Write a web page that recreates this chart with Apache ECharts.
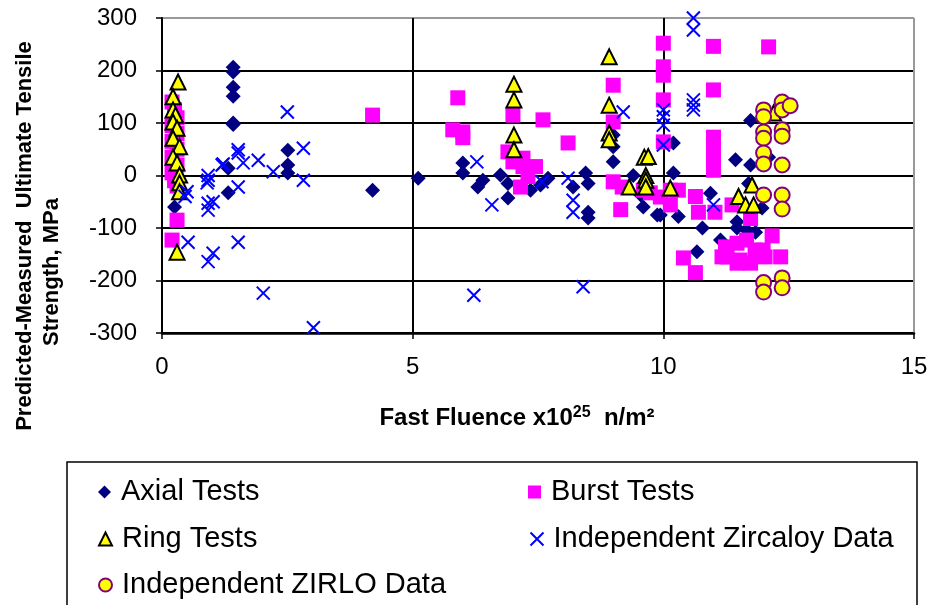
<!DOCTYPE html>
<html>
<head>
<meta charset="utf-8">
<script src="https://cdn.jsdelivr.net/npm/echarts@6/dist/echarts.min.js"></script>
<style>
html,body{margin:0;padding:0;background:#fff;}
#chart{width:932px;height:605px;}
</style>
</head>
<body>
<div id="chart"></div>
<script>
// ---- Data (x = fast fluence x10^25 n/m^2, y = predicted-measured UTS, MPa) ----
const seriesNames = ['Axial Tests', 'Burst Tests', 'Ring Tests', 'Independent Zircaloy Data', 'Independent ZIRLO Data'];
const xTicks = [0, 5, 10, 15];
const yTicks = [-300, -200, -100, 0, 100, 200, 300];

const axialData = [
  [0.25,-60],[0.3,0],[0.3,10],
  [1.42,206],[1.42,197],[1.42,168],[1.42,151],[1.42,100],[1.42,97],[1.32,14],[1.32,-33],
  [2.51,48],[2.51,20],[2.51,5],
  [4.2,-28],[5.11,-5],
  [6.0,24],[6.0,5],[6.3,-22],[6.4,-9],[6.75,1],[6.9,-43],[6.9,-15],[7.35,-28],[7.55,-18],[7.7,-5],
  [8.2,-22],[8.45,5],[8.5,-15],[8.5,-70],[8.5,-81],
  [9.0,77],[9.0,55],[9.0,26],[9.4,0],[9.55,-37],[9.6,-60],[9.88,-75],[9.94,-75],
  [10.2,62],[10.2,5],[10.3,-78],[10.67,-145],[10.78,-100],[10.94,-34],[11.14,-123],[11.44,30],
  [11.47,-88],[11.47,-100],[11.7,-15],[11.74,105],[11.74,20],[11.66,-104],[11.84,-108],[11.97,-62],[12.1,35]
];
const burstData = [
  [0.2,140],[0.25,125],[0.3,110],[0.2,95],[0.3,80],[0.2,65],[0.3,50],[0.2,35],[0.3,20],[0.2,5],[0.25,-10],[0.3,-20],[0.3,-85],[0.2,-123],
  [4.2,115],[5.9,148],[5.8,87],[6.0,83],[6.0,72],[7.0,115],[6.9,45],[7.0,26],[7.2,33],[7.2,17],[7.45,17],[7.15,-22],[7.3,-2],[7.6,106],[8.1,62],
  [9.0,172],[9.0,102],[9.0,-12],[9.18,-22],[9.15,-65],[9.6,-28],[9.74,-33],[9.94,-41],[10.14,-28],[10.14,-56],[10.3,-28],[10.64,-40],[10.7,-70],[11.03,-70],[10.4,-157],[10.64,-185],
  [10.0,252],[10.0,207],[10.0,191],[10.0,144],[10.0,64],[11.0,246],[11.0,163],[11.0,73],[11.0,49],[11.0,30],[11.0,10],[12.1,245],
  [11.37,-56],[11.74,-82],[12.17,-115],[12.34,-155],[11.24,-136],[11.27,-155],[11.47,-129],[11.53,-161],[11.66,-123],[11.74,-167],[11.83,-142],[12.03,-155],[11.17,-155],[11.47,-167],[11.99,-142]
];
const ringData = [
  [0.32,178],[0.22,150],[0.22,125],[0.27,115],[0.22,102],[0.3,90],[0.22,71],[0.35,55],[0.22,35],[0.3,24],[0.35,1],[0.35,-14],[0.35,-31],[0.3,-146],
  [7.02,174],[7.02,144],[7.02,77],[7.02,49],[8.92,226],[8.92,134],[8.92,81],[8.92,68],
  [9.62,35],[9.7,36],[9.65,0],[9.65,-9],[9.65,-22],[9.32,-22],[10.14,-24],[11.5,-40],[11.77,-18],[11.64,-56],[11.8,-56],[12.2,119]
];
const zircaloyData = [
  [0.46,-40],[0.5,-31],[0.52,-127],[0.92,0],[0.92,-9],[0.9,-14],[0.92,-53],[1.02,-50],[0.92,-66],[0.92,-164],[1.02,-148],
  [1.2,20],[1.22,22],[1.52,49],[1.52,43],[1.62,24],[1.52,-22],[1.52,-127],[1.92,29],[2.22,7],[2.02,-224],[2.5,121],[2.82,52],[2.82,-9],[3.02,-290],
  [6.28,26],[6.58,-56],[6.22,-228],[7.58,-12],[8.1,-5],[8.2,-47],[8.2,-70],[8.4,-212],[9.2,121],
  [10.6,300],[10.6,277],[10.6,144],[10.6,134],[10.6,125],[10.0,125],[10.0,112],[10.0,96],[10.0,58],[11.0,-56]
];
const zirloData = [
  [12.0,125],[12.0,112],[12.0,83],[12.0,71],[12.0,43],[12.0,22],[12.0,-37],[12.0,-204],[12.0,-222],
  [12.37,140],[12.37,125],[12.53,133],[12.37,87],[12.37,75],[12.37,20],[12.37,-37],[12.37,-64],[12.37,-195],[12.37,-214]
];

// ---- Chart ----
const FONT = 'Arial, "Liberation Sans", Helvetica, sans-serif';
const chart = echarts.init(document.getElementById('chart'), null, {renderer: 'canvas'});
const xPath = 'path://M0,0L10,10M10,0L0,10';

function legendAt(name, left, top) {
  return {
    data: [name], left: left, top: top, padding: 0,
    itemWidth: 13, itemHeight: 13, selectedMode: false,
    textStyle: {fontFamily: FONT, fontSize: 29, color: '#000', lineHeight: 32, padding: [0, 0, 0, 5]}
  };
}

const option = {
  animation: false,
  backgroundColor: '#fff',
  grid: {left: 162, right: 18, top: 18, bottom: 272, containLabel: false},
  legend: [
    legendAt(seriesNames[0], 98, 476),
    legendAt(seriesNames[1], 528, 476),
    legendAt(seriesNames[2], 98, 523),
    legendAt(seriesNames[3], 528, 523),
    legendAt(seriesNames[4], 98, 569)
  ],
  xAxis: {
    type: 'value', min: xTicks[0], max: xTicks[xTicks.length - 1], interval: 5,
    axisLine: {show: true, onZero: false, lineStyle: {color: '#000', width: 2.5}},
    axisTick: {show: true, inside: false, length: 6, lineStyle: {color: '#000', width: 1.5}},
    axisLabel: {fontFamily: FONT, fontSize: 24, color: '#000', margin: 22},
    splitLine: {show: true, lineStyle: {color: ['#000', '#000', '#000', '#999'], width: 2}}
  },
  yAxis: {
    type: 'value', min: yTicks[0], max: yTicks[yTicks.length - 1], interval: 100,
    axisLine: {show: true, onZero: false, lineStyle: {color: '#000', width: 2}},
    axisTick: {show: true, inside: false, length: 6, lineStyle: {color: '#000', width: 1.5}},
    axisLabel: {fontFamily: FONT, fontSize: 24, color: '#000', margin: 25},
    splitLine: {show: true, lineStyle: {color: ['#000', '#000', '#000', '#000', '#000', '#000', '#999'], width: 2}}
  },
  series: [
    {name: seriesNames[0], type: 'scatter', data: axialData, symbol: 'diamond', symbolSize: 15, clip: false,
      itemStyle: {color: '#000080', opacity: 1}},
    {name: seriesNames[1], type: 'scatter', data: burstData, symbol: 'rect', symbolSize: 15, clip: false,
      itemStyle: {color: '#ff00ff', opacity: 1}},
    {name: seriesNames[2], type: 'scatter', data: ringData, symbol: 'triangle', symbolSize: 15, clip: false,
      itemStyle: {color: '#ffff00', borderColor: '#000', borderWidth: 2, opacity: 1}},
    {name: seriesNames[3], type: 'scatter', data: zircaloyData, symbol: xPath, symbolSize: 13, clip: false,
      itemStyle: {color: 'none', borderColor: '#0000ff', borderWidth: 2, opacity: 1}},
    {name: seriesNames[4], type: 'scatter', data: zirloData, symbol: 'circle', symbolSize: 15, clip: false,
      itemStyle: {color: '#ffff00', borderColor: '#800080', borderWidth: 2, opacity: 1}}
  ],
  graphic: [
    {type: 'rect', shape: {x: 67, y: 462, width: 850, height: 160}, style: {fill: 'none', stroke: '#000', lineWidth: 1.5}, z: -1},
    {type: 'text', x: 517, y: 418, style: {
      text: '{a|Fast Fluence x10}{s|25}{a|  n/m²}', align: 'center', verticalAlign: 'middle',
      rich: {a: {fontFamily: FONT, fontSize: 24, fontWeight: 'bold', fill: '#000'},
             s: {fontFamily: FONT, fontSize: 16, fontWeight: 'bold', fill: '#000', verticalAlign: 'top', padding: [0,0,10,0]}}}},
    {type: 'text', x: 25, y: 236, rotation: Math.PI / 2, style: {
      text: 'Predicted-Measured  Ultimate Tensile', align: 'center', verticalAlign: 'middle',
      fontFamily: FONT, fontSize: 22, fontWeight: 'bold', fill: '#000'}},
    {type: 'text', x: 52, y: 272, rotation: Math.PI / 2, style: {
      text: 'Strength, MPa', align: 'center', verticalAlign: 'middle',
      fontFamily: FONT, fontSize: 22, fontWeight: 'bold', fill: '#000'}}
  ]
};
chart.setOption(option);
</script>
</body>
</html>
